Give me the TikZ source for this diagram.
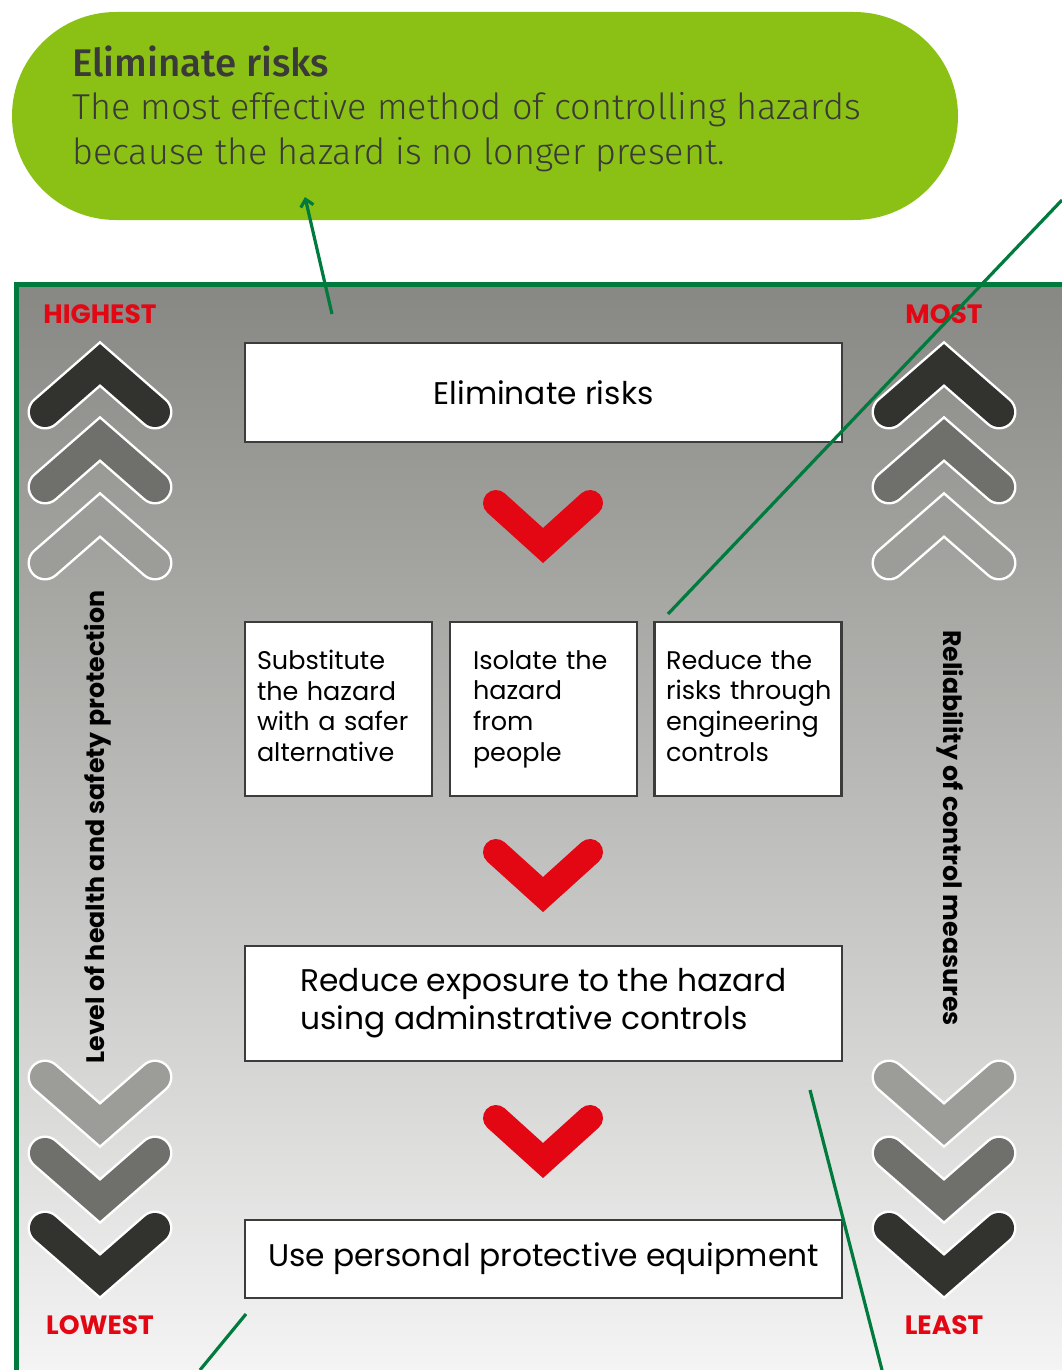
\documentclass[tikz,border=0pt]{standalone}
\usepackage{fontspec}
\usepackage{tikz}
\usetikzlibrary{arrows.meta}
\setmainfont{Poppins}
\newfontfamily\bubblefont{Fira Sans Light}
\newfontfamily\bubbletitlefont{Fira Sans Medium}
\definecolor{bubblegreen}{HTML}{8BC115}
\definecolor{bubbletext}{HTML}{3A3A38}
\definecolor{framegreen}{HTML}{007A3D}
\definecolor{alertred}{HTML}{E30613}
\definecolor{boxgray}{HTML}{3C3C3C}
\definecolor{chevdark}{HTML}{32322F}
\definecolor{chevmid}{HTML}{6F6F6C}
\definecolor{chevlight}{HTML}{9C9C99}
\definecolor{bgtop}{HTML}{878783}
\definecolor{bgmid}{HTML}{ABABAB}
\definecolor{bgbottom}{HTML}{F4F4F4}

\begin{document}
\begin{tikzpicture}[
  x=1pt,
  y=-1pt,
  stepbox/.style={draw=boxgray, line width=2.5pt, fill=white, inner sep=0pt},
  bigbox/.style={stepbox, minimum width=597pt, font=\fontsize{31.3}{38}\selectfont},
  smallbox/.style={stepbox, minimum height=174pt, align=left,
    font=\fontsize{25.5}{30.7}\selectfont},
  level/.style={text=alertred, inner sep=0pt, font=\fontsize{26.5}{26.5}\selectfont\bfseries},
  sidetext/.style={inner sep=0pt, font=\fontsize{25.3}{25.3}\selectfont\bfseries},
  pointer/.style={draw=framegreen, line width=3.2pt},
  chevout/.style={draw=white, line width=35pt, line cap=round, line join=miter},
  chevin/.style={line width=30pt, line cap=round, line join=miter},
  redchev/.style={draw=alertred, line width=26pt, line cap=round, line join=miter}
]

\useasboundingbox (0,0) rectangle (1062,1370);
\fill[white] (0,0) rectangle (1062,1370);

% callout bubble
\node[fill=bubblegreen, rounded corners=104pt, minimum width=946pt,
  minimum height=208pt] (bubble) at (485,116) {};
\node[anchor=west, inner sep=0pt, text=bubbletext,
  font=\bubbletitlefont\fontsize{38.5}{38.5}\selectfont] (bubbletitle) at (72,61)
  {Eliminate risks};
\node[anchor=west, inner sep=0pt, align=left, text=bubbletext,
  font=\bubblefont\fontsize{36}{45}\selectfont] (bubblebody) at (72,132)
  {The most effective method of controlling hazards\\because the hazard is no longer present.};

% framed panel
\shade[top color=bgtop, middle color=bgmid, bottom color=bgbottom]
  (16,284) rectangle (1062,1370);
\draw[framegreen, line width=5pt] (1062,284) -- (16,284) -- (16,1370);

\foreach \cx in {100,944} {
  \foreach \cy/\col in {364/chevdark, 439/chevmid, 515/chevlight} {
    \draw[chevout] (\cx-55,\cy+48) -- (\cx,\cy) -- (\cx+55,\cy+48);
    \draw[chevin, draw=\col] (\cx-55,\cy+48) -- (\cx,\cy) -- (\cx+55,\cy+48);
  }
  \foreach \cy/\col in {1125/chevlight, 1201/chevmid, 1276/chevdark} {
    \draw[chevout] (\cx-55,\cy-48) -- (\cx,\cy) -- (\cx+55,\cy-48);
    \draw[chevin, draw=\col] (\cx-55,\cy-48) -- (\cx,\cy) -- (\cx+55,\cy-48);
  }
}

\node[level] (highest) at (100,314) {HIGHEST};
\node[level] (most) at (944,314) {MOST};
\node[level] (lowest) at (100,1325) {LOWEST};
\node[level] (least) at (944,1325) {LEAST};

\node[sidetext, rotate=90] (protection) at (98,827)
  {Level of health and safety protection};
\node[sidetext, rotate=-90] (reliability) at (950,828)
  {Reliability of control measures};

% hierarchy boxes
\node[bigbox, minimum height=99pt] (eliminate) at (543.5,392.5) {Eliminate risks};
\node[smallbox, text width=163pt, inner xsep=12pt] (substitute) at (338.5,709)
  {Substitute\\the~hazard\\with~a~safer\\alternative\vphantom{p}};
\node[smallbox, text width=141pt, inner xsep=23pt] (isolate) at (543.5,709)
  {Isolate~the\\hazard\\from\\people};
\node[smallbox, text width=164pt, inner xsep=11.5pt] (engineering) at (748,709)
  {Reduce~the\\risks~through\\engineering\\controls\vphantom{p}};
\node[bigbox, minimum height=115pt, align=left] (exposure) at (543.5,1003.5)
  {Reduce exposure to the hazard\\using adminstrative controls};
\node[bigbox, minimum height=78pt] (ppe) at (543.5,1259)
  {Use personal protective equipment};

\foreach \cy in {545.5,894.5,1160.5}
  \draw[redchev] (496,\cy-42.5) -- (543,\cy) -- (590,\cy-42.5);

% pointers
\coordinate (taileliminate) at (332,314);
\coordinate (tipbubble) at (305,197);
\coordinate (engtop) at (668,614);
\coordinate (offright) at (1062,200);
\coordinate (ppecorner) at (246,1314);
\coordinate (offbottomleft) at (200,1370);
\coordinate (exposurecorner) at (810,1090);
\coordinate (offbottomright) at (882,1370);
\draw[pointer, -{Straight Barb[length=7pt,width=13pt]}] (taileliminate) -- (tipbubble);
\draw[pointer] (engtop) -- (offright);
\draw[pointer] (ppecorner) -- (offbottomleft);
\draw[pointer] (exposurecorner) -- (offbottomright);

\end{tikzpicture}
\end{document}
